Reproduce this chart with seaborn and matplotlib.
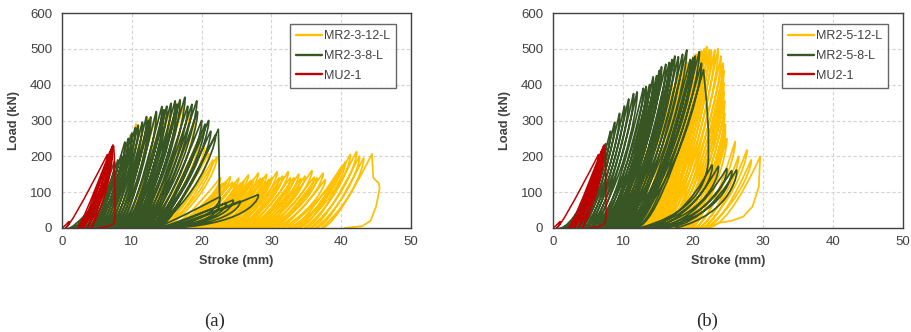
import numpy as np
import pandas as pd
import matplotlib
matplotlib.use("Agg")
import matplotlib.pyplot as plt
import seaborn as sns
from matplotlib.path import Path
from matplotlib.patches import PathPatch
from matplotlib.lines import Line2D

# ---------------- DATA ----------------
# Cyclic series: reload start stroke (load = 0), peak stroke, peak load (kN)
# ---- MU2-1 (same specimen in both panels)
mu_r = [0.0, 0.5, 2.2, 2.6, 3.0, 3.6, 4.2]
mu_p = [1.0, 6.5, 6.9, 7.1, 7.2, 7.3, 7.4]
mu_P = [18, 205, 215, 222, 228, 232, 228]
mu_tail_x = [7.4, 7.5, 7.55, 7.6, 7.4, 6.5, 5.0]
mu_tail_y = [228, 200, 100, 30, 12, 4, 0]

# ---- (a) MR2-3-12-L
a12_r = [2.0, 3.0, 4.0, 5.0, 5.8, 6.5, 7.2, 8.0, 8.8, 9.5, 10.2, 10.8, 11.4, 12.0, 12.5,
         13.0, 13.5, 14.0, 14.5,
         15.0, 15.5, 16.0, 16.5, 17.0, 17.5, 18.0, 18.5, 19.0, 19.5, 20.0, 20.5, 21.0, 21.5,
         22.0, 22.5, 23.0, 23.5, 24.0, 24.5, 25.0, 25.5, 26.0, 26.5, 27.0, 27.5, 28.0, 28.5,
         29.0, 29.5, 30.0, 30.8, 31.6, 32.5, 33.3, 34.0, 34.8, 35.6, 36.4, 37.2]
a12_p = [5.0, 6.8, 8.5, 9.8, 10.6, 11.5, 12.4, 13.5, 14.6, 15.6, 16.5, 17.4, 18.2, 19.0, 19.8,
         20.4, 21.0, 21.6, 22.2,
         22.7, 23.0, 23.5, 24.1, 24.4, 24.8, 25.3, 25.6, 26.0, 26.7, 27.0, 27.4, 28.1, 28.4,
         28.8, 29.3, 29.6, 30.0, 30.8, 31.1, 31.6, 32.4, 32.7, 33.2, 33.9, 34.2, 34.8, 35.8,
         36.1, 36.5, 37.4, 37.7, 38.5, 40.0, 40.6, 41.3, 42.2, 42.6, 43.2, 44.4]
a12_P = [60, 130, 200, 260, 290, 295, 305, 320, 330, 340, 348, 343, 320, 300, 260,
         230, 208, 190, 199,
         140, 125, 130, 143, 128, 125, 139, 125, 130, 148, 132, 135, 153, 138,
         140, 150, 135, 140, 157, 140, 145, 157, 140, 140, 150, 138, 145, 160,
         142, 140, 153, 135, 120, 170, 185, 205, 213, 200, 195, 206]
a12_tail_x = [44.4, 44.6, 45.0, 45.4, 45.5, 45.0, 44.2, 43.0, 40.5]
a12_tail_y = [206, 140, 132, 125, 110, 60, 20, 5, 0]

# ---- (a) MR2-3-8-L
a8_r = [1.0, 1.6, 2.2, 2.8, 3.3, 3.8, 4.2, 4.6, 5.0, 5.4, 5.8, 6.2, 6.6, 7.0, 7.4, 7.8,
        8.2, 8.6, 9.0, 9.3, 9.6, 9.9, 10.2, 10.5, 10.8, 11.1, 11.4, 11.7, 12.0, 12.3,
        12.6, 12.9, 13.2, 13.5, 13.7]
a8_p = [3.5, 4.5, 5.5, 6.5, 7.5, 8.0, 8.5, 9.0, 9.5, 10.0, 10.5, 10.9, 11.5, 12.1, 12.4,
        12.7, 13.5, 14.3, 14.6, 15.0, 15.6, 16.2, 16.5, 16.9, 17.6, 18.0, 18.6, 19.3, 19.4,
        20.0, 20.5, 21.0, 21.3, 22.0, 22.4]
a8_P = [40, 70, 110, 150, 185, 190, 200, 240, 250, 265, 280, 287, 295, 311, 300,
        310, 325, 339, 330, 340, 348, 355, 345, 358, 365, 340, 345, 355, 325, 300,
        290, 300, 270, 260, 275]
a8_drop_x = [22.4, 22.5, 22.55, 22.6]
a8_drop_y = [275, 190, 110, 65]
a8_post_r = [13.0, 13.5, 14.0, 14.5, 15.0]
a8_post_p = [22.6, 23.5, 24.5, 25.5, 28.1]
a8_post_P = [87, 70, 78, 75, 93]
a8_post_end = 16.0

# ---- (b) MR2-5-12-L
b12_r = [6.0, 7.0, 8.0, 8.8, 9.6, 10.3, 11.0, 11.4, 11.7, 12.1, 12.4, 12.7, 13.0, 13.3,
         13.6, 13.9, 14.2, 14.5, 14.8, 15.1, 15.4, 15.7, 16.0, 16.5, 17.0, 17.5, 18.0, 18.4,
         18.8, 19.2, 19.6, 20.0, 20.5, 21.0, 21.5, 22.0]
b12_p = [10.0, 12.0, 13.5, 14.8, 16.0, 17.0, 17.9, 18.3, 18.8, 19.2, 19.6, 20.0, 20.4, 20.8,
         21.2, 21.6, 21.95, 22.3, 22.6, 23.1, 23.6, 24.0, 24.3, 24.4, 24.4, 24.4, 24.5, 24.5,
         24.6, 24.6, 24.8, 26.0, 26.5, 27.7, 28.3, 29.6]
b12_P = [60, 140, 220, 290, 350, 395, 430, 440, 455, 462, 470, 478, 485, 490,
         495, 500, 506, 498, 495, 497, 501, 480, 460, 440, 405, 380, 355, 320,
         290, 273, 250, 241, 200, 218, 190, 199]
b12_tail_x = [29.6, 29.5, 29.4, 28.5, 27.2, 25.5, 23.9, 21.5]
b12_tail_y = [199, 160, 115, 60, 32, 20, 15, 0]

# ---- (b) MR2-5-8-L
b8_r = [1.0, 1.4, 1.8, 2.2, 2.6, 3.0, 3.4, 3.8, 4.2, 4.6, 5.0, 5.4, 5.8, 6.2, 6.6, 7.0,
        7.3, 7.6, 7.9, 8.2, 8.5, 8.8, 9.1, 9.4, 9.7, 10.0, 10.3, 10.6, 10.9, 11.2, 11.5, 11.7]
b8_p = [4.0, 5.0, 6.0, 6.8, 7.5, 8.2, 8.8, 9.5, 10.2, 10.8, 11.5, 12.0, 12.9, 13.3, 13.8,
        14.3, 14.8, 15.2, 15.5, 16.1, 16.6, 17.0, 17.4, 17.9, 18.5, 19.1, 19.6, 20.0, 20.3,
        20.9, 21.2, 21.5]
b8_P = [60, 110, 160, 200, 235, 270, 295, 320, 340, 360, 375, 380, 390, 395, 400,
        422, 425, 440, 450, 457, 462, 470, 480, 478, 485, 497, 470, 475, 480, 492, 460, 441]
b8_drop_x = [21.5, 21.95, 22.2, 22.2]
b8_drop_y = [441, 348, 273, 190]
b8_post_r = [12.3, 13.0, 13.8, 14.6, 15.5]
b8_post_p = [22.7, 23.6, 24.8, 25.5, 26.2]
b8_post_P = [176, 172, 166, 160, 162]
b8_post_end = 17.5

labels_a = ["MR2-3-12-L", "MR2-3-8-L", "MU2-1"]
labels_b = ["MR2-5-12-L", "MR2-5-8-L", "MU2-1"]
x_ticks = [0, 10, 20, 30, 40, 50]
y_ticks = [0, 100, 200, 300, 400, 500, 600]

# ---------------- STYLE ----------------
YEL = "#FFC000"
GRN = "#375623"
RED = "#C00000"
LW = 1.25
LW_RED = 1.1

sns.set_theme(style="white")
plt.rcParams['font.family'] = ['Liberation Sans', 'DejaVu Sans']


def cycle_path(r, p, P, end=None, start=None, a=0.3, b=0.15, c=0.45, h=0.25):
    """Reload / unload branches through the read key points; matplotlib
    renders the branches as Bezier curves."""
    verts, codes = [], []
    if start is not None:
        sx, sy = start
        du = sx - r[0]
        verts += [(sx, sy), (sx - b * du, c * sy), (r[0], 0)]
        codes += [Path.MOVETO, Path.CURVE3, Path.CURVE3]
    n = len(r)
    for i in range(n):
        d = p[i] - r[i]
        verts += [(r[i], 0), (r[i] + a * d, 0), (p[i], P[i])]
        codes += [Path.MOVETO, Path.CURVE3, Path.CURVE3]
        u = r[i + 1] if i + 1 < n else end
        if u is not None:
            du = p[i] - u
            verts += [(p[i] + h, P[i] * 0.985), (p[i] - b * du, c * P[i]), (u, 0)]
            codes += [Path.CURVE4, Path.CURVE4, Path.CURVE4]
    return Path(verts, codes)


def draw_cycles(ax, path, color, z, lw=LW):
    ax.add_patch(PathPatch(path, fill=False, edgecolor=color, lw=lw,
                           joinstyle='round', capstyle='round', zorder=z))


def draw_tail(ax, x, y, color, z, lw=LW):
    sns.lineplot(x=x, y=y, sort=False, estimator=None, color=color, lw=lw,
                 ax=ax, zorder=z)


fig = plt.figure(figsize=(9.12, 3.32), dpi=100)
ax_a = fig.add_axes([62 / 912, 104 / 332, 349 / 912, 215 / 332])
ax_b = fig.add_axes([553 / 912, 104 / 332, 350 / 912, 215 / 332])

# panel (a)
draw_cycles(ax_a, cycle_path(a12_r, a12_p, a12_P, end=None, a=0.25), YEL, 2)
draw_tail(ax_a, a12_tail_x, a12_tail_y, YEL, 2)
draw_cycles(ax_a, cycle_path(a8_r, a8_p, a8_P, end=None, a=0.22), GRN, 3)
draw_tail(ax_a, a8_drop_x, a8_drop_y, GRN, 3)
draw_cycles(ax_a, cycle_path(a8_post_r, a8_post_p, a8_post_P, end=a8_post_end,
                             start=(a8_drop_x[-1], a8_drop_y[-1]), a=0.12, b=0.05, c=0.15,
                             h=0.3), GRN, 3)
draw_cycles(ax_a, cycle_path(mu_r, mu_p, mu_P, end=None, a=0.1, b=0.05, c=0.45, h=0.1),
            RED, 4, LW_RED)
draw_tail(ax_a, mu_tail_x, mu_tail_y, RED, 4, LW_RED)

# panel (b)
draw_cycles(ax_b, cycle_path(b12_r, b12_p, b12_P, end=None, a=0.38), YEL, 2)
draw_tail(ax_b, b12_tail_x, b12_tail_y, YEL, 2)
draw_cycles(ax_b, cycle_path(b8_r, b8_p, b8_P, end=None, a=0.35), GRN, 3)
draw_tail(ax_b, b8_drop_x, b8_drop_y, GRN, 3)
draw_cycles(ax_b, cycle_path(b8_post_r, b8_post_p, b8_post_P, end=b8_post_end,
                             start=(b8_drop_x[-1], b8_drop_y[-1]), a=0.55, b=0.05, c=0.25,
                             h=0.3), GRN, 3)
draw_cycles(ax_b, cycle_path(mu_r, mu_p, mu_P, end=None, a=0.1, b=0.05, c=0.45, h=0.1),
            RED, 4, LW_RED)
draw_tail(ax_b, mu_tail_x, mu_tail_y, RED, 4, LW_RED)

for ax, labs in ((ax_a, labels_a), (ax_b, labels_b)):
    ax.set_xlim(0, 50)
    ax.set_ylim(0, 600)
    ax.set_xticks(x_ticks)
    ax.set_yticks(y_ticks)
    ax.set_axisbelow(True)
    ax.grid(True, color="#D4D4D4", linestyle=(0, (3, 2)), lw=0.8)
    for s in ax.spines.values():
        s.set_color("#404040")
        s.set_linewidth(1.0)
        s.set_zorder(5)
    ax.tick_params(axis='both', length=0, labelsize=9.5, colors="#404040")
    ax.tick_params(axis='x', pad=5.5)
    ax.tick_params(axis='y', pad=7)
    ax.set_xlabel("Stroke (mm)", fontsize=9.2, fontweight='bold', color="#404040")
    ax.set_ylabel("Load (kN)", fontsize=9.2, fontweight='bold', color="#404040")
    ax.xaxis.set_label_coords(0.5, -0.125)
    ax.yaxis.set_label_coords(-0.12, 0.5)
    handles = [Line2D([], [], color=c, lw=1.7) for c in (YEL, GRN, RED)]
    leg = ax.legend(handles, labs, loc='upper right', bbox_to_anchor=(0.957, 0.949),
                    borderaxespad=0, fontsize=9, frameon=True, fancybox=False,
                    handlelength=2.1, handletextpad=0.1, labelspacing=0.62,
                    borderpad=0.5)
    leg.get_frame().set_edgecolor("#404040")
    leg.get_frame().set_linewidth(1.0)
    leg.set_zorder(6)
    for t in leg.get_texts():
        t.set_color("#404040")

fig.text(215 / 912, 1 - 321 / 332, "(a)", ha='center', va='center', fontsize=13.5,
         family=['Liberation Serif', 'DejaVu Serif'])
fig.text(707 / 912, 1 - 321 / 332, "(b)", ha='center', va='center', fontsize=13.5,
         family=['Liberation Serif', 'DejaVu Serif'])

fig.savefig("out.png", dpi=100)
